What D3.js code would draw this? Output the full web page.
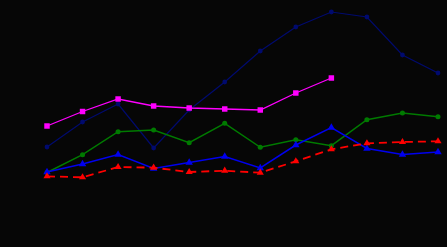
<!DOCTYPE html>
<html><head><meta charset="utf-8">
<script src="https://cdn.jsdelivr.net/npm/d3@7"></script>
<style>html,body{margin:0;padding:0;background:#060606;}svg{display:block;}</style>
</head><body>
<svg id="c" width="447" height="247"></svg>
<script>
const periods = [1,2,3,4,5,6,7,8,9,10,11,12];
const navy    = [100,125,143,99,137,165,196,220,235,230,192,174];
const magenta = [121,135.5,148,141,139,138,137,154,169];
const green   = [74.5,92.3,115.3,117,104.3,123.7,99.7,107.3,101.3,127.3,134,130.3];
const blue    = [75,83,92.5,78.5,84.5,90.5,79,102,119.5,98.5,92.5,95];
const red     = [70.7,69.7,80,79.3,75,76.3,74.3,85.7,97.7,103.7,105,105.7];

const W = 447, H = 247;
const svg = d3.select("#c");
const x = d3.scalePoint().domain(periods).range([47, 438]);
const y = d3.scaleLinear().domain([0, 247]).range([247, 0]);

const series = [
  {vals: navy, color: "#000a6e", width: 1.2, sym: d3.symbolCircle, size: 18, dash: null},
  {vals: magenta, color: "#ff00ff", width: 1.3, sym: d3.symbolSquare, size: 30, dash: null},
  {vals: green, color: "#007a00", width: 1.5, sym: d3.symbolCircle, size: 20, dash: null},
  {vals: blue, color: "#0000ee", width: 1.5, sym: d3.symbolTriangle, size: 24, dash: null},
  {vals: red, color: "#ff0000", width: 1.8, sym: d3.symbolTriangle, size: 22, dash: "8,5"}
];

const line = d3.line().x((d,i)=>x(periods[i])).y(d=>y(d));
series.forEach(s => {
  svg.append("path").datum(s.vals)
    .attr("d", line).attr("fill","none")
    .attr("stroke", s.color).attr("stroke-width", s.width)
    .attr("stroke-dasharray", s.dash);
  svg.selectAll(null).data(s.vals).enter().append("path")
    .attr("transform",(d,i)=>`translate(${x(periods[i])},${y(d)})`)
    .attr("d", d3.symbol().type(s.sym).size(s.size))
    .attr("fill", s.color);
});
</script>
</body></html>
